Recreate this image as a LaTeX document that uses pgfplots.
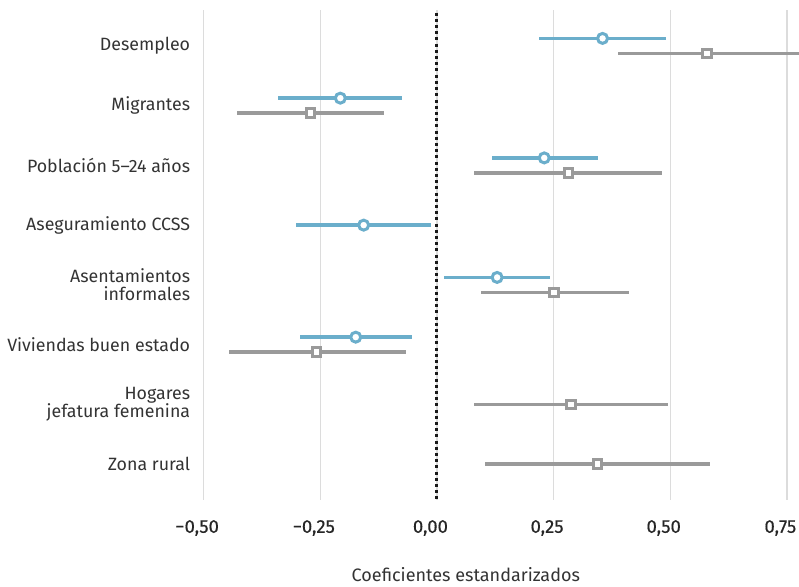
\documentclass[border=0pt]{standalone}
\usepackage{pgfplots}
\pgfplotsset{compat=1.18}
\usepackage{pgfplotstable}
\usepackage{fontspec}
\setmainfont{Fira Sans}
\newfontfamily\tickfont{Fira Sans}[FakeBold=0.4]
\definecolor{cblue}{HTML}{6BAECB}
\definecolor{cgray}{HTML}{9A9A9A}
\definecolor{gridc}{HTML}{DCDCDC}
\definecolor{txt}{HTML}{333333}

% y = category position (1 = top), x = estimate, lo/hi = interval
\pgfplotstableread{
y x lo hi
0.875 0.355 0.219 0.492
1.875 -0.207 -0.341 -0.074
2.875 0.230 0.118 0.345
4.000 -0.157 -0.301 -0.012
4.875 0.129 0.016 0.243
5.875 -0.174 -0.294 -0.053
}\bluedata

\pgfplotstableread{
y x lo hi
1.125 0.579 0.389 0.800
2.125 -0.271 -0.428 -0.114
3.125 0.282 0.080 0.482
5.125 0.251 0.094 0.411
6.125 -0.258 -0.446 -0.067
7.000 0.287 0.079 0.496
8.000 0.344 0.104 0.585
}\graydata

\begin{document}
\begin{tikzpicture}
\begin{axis}[
  scale only axis,
  width=604.7pt, height=490pt,
  xmin=-0.52, xmax=0.776,
  ymin=0.4, ymax=8.6, y dir=reverse,
  axis line style={draw=none},
  major tick length=0pt,
  tick style={draw=none},
  xtick={-0.5,-0.25,0,0.25,0.5,0.75},
  xticklabels={{−0,50},{−0,25},{0,00},{0,25},{0,50},{0,75}},
  ytick={1,2,3,4,5,6,7,8},
  yticklabels={Desempleo,Migrantes,Población 5–24 años,Aseguramiento CCSS,Asentamientos\\informales,Viviendas buen estado,Hogares\\jefatura femenina,Zona rural},
  yticklabel style={align=right, inner sep=0pt, xshift=-4pt, font=\fontsize{17.8}{18}\selectfont, text=txt},
  xticklabel style={inner sep=0pt, yshift=-20pt, xshift=-6.5pt, font=\tickfont\fontsize{18.5}{20}\selectfont, text=black!85},
  xmajorgrids,
  grid style={gridc, line width=1.3pt},
  xlabel={Coeficientes estandarizados},
  xlabel style={at={(axis description cs:0.449,0)}, anchor=base, yshift=-81.7pt, inner sep=0pt, font=\fontsize{18}{20}\selectfont, text=txt},
]
% zero reference line
\addplot[line width=3pt, dash pattern=on 3pt off 3.2pt, color=black!90] coordinates {(0,0.445) (0,8.6)};

% interval lines
\addplot[only marks, mark=none, error bars/.cd, x dir=both, x explicit, error mark=none,
  error bar style={draw=cblue, line width=3.4pt}]
  table[x=x, y=y, x error plus expr=\thisrow{hi}-\thisrow{x}, x error minus expr=\thisrow{x}-\thisrow{lo}] {\bluedata};
\addplot[only marks, mark=none, error bars/.cd, x dir=both, x explicit, error mark=none,
  error bar style={draw=cgray, line width=3.4pt}]
  table[x=x, y=y, x error plus expr=\thisrow{hi}-\thisrow{x}, x error minus expr=\thisrow{x}-\thisrow{lo}] {\graydata};

% point estimates
\addplot[only marks, mark=*, mark size=5pt, mark options={draw=cblue, fill=white, line width=3pt}]
  table[x=x, y=y] {\bluedata};
\addplot[only marks, mark=square*, mark size=4.2pt, mark options={draw=cgray, fill=white, line width=3pt}]
  table[x=x, y=y] {\graydata};
\end{axis}
\pgfresetboundingbox
\path (-194.3pt,-86pt) rectangle (604.7pt,500pt);
\end{tikzpicture}
\end{document}
